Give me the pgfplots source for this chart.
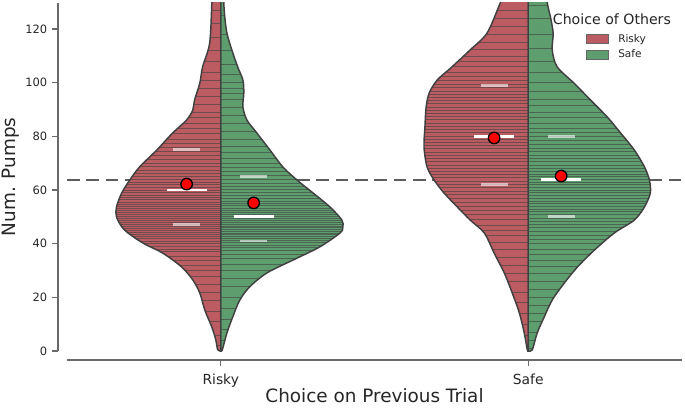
\documentclass[border=0pt]{standalone}
\usepackage{pgfplots}
\pgfplotsset{compat=1.18}
\usepackage{pgfplotstable}
\usepackage{fontspec}
\setmainfont{DejaVu Sans}

\definecolor{vred}{RGB}{186,92,97}
\definecolor{vgreen}{RGB}{94,158,110}
\definecolor{edge}{RGB}{64,64,64}
\definecolor{txt}{RGB}{38,38,38}
\definecolor{spine}{RGB}{105,105,105}

% violin outlines (x = category position +/- half width, y = pumps)
\pgfplotstableread{
x y
0 0
-0.010 0.5
-0.016 4.1
-0.029 8.9
-0.052 15.3
-0.068 21.6
-0.091 26.5
-0.127 31.3
-0.189 36.5
-0.254 40.3
-0.313 45.1
-0.339 49.9
-0.339 53.7
-0.322 58.9
-0.296 63.7
-0.264 68.6
-0.208 74.9
-0.156 81.3
-0.111 86.1
-0.091 89.8
-0.085 93.6
-0.068 99.9
-0.059 105.9
-0.036 114.8
-0.029 129.7
-0.025 140
0 140
}\riskyrisky

\pgfplotstableread{
x y
0 0
0.005 0.4
0.020 6.7
0.039 12.7
0.062 19.0
0.094 23.9
0.150 29.1
0.235 33.9
0.322 38.8
0.388 44.0
0.397 46.2
0.394 48.8
0.355 53.7
0.300 58.9
0.248 63.7
0.202 68.6
0.160 74.9
0.117 81.3
0.085 86.1
0.072 91.0
0.075 96.2
0.072 101.0
0.055 105.9
0.036 112.2
0.020 118.5
0.013 124.6
0.010 129.7
0.008 140
0 140
}\riskysafe

\pgfplotstableread{
x y
1 0
0.997 0.4
0.987 6.7
0.971 14.2
0.948 21.6
0.922 29.1
0.889 36.5
0.857 44.0
0.811 48.8
0.769 53.7
0.726 58.9
0.694 63.7
0.671 68.6
0.661 76.0
0.664 83.5
0.668 91.0
0.678 96.2
0.704 101.0
0.752 105.9
0.811 112.2
0.866 118.5
0.909 129.7
0.948 140
1 140
}\saferisky

\pgfplotstableread{
x y
1 0
1.013 0.4
1.029 6.7
1.052 12.7
1.078 19.0
1.117 25.3
1.160 31.3
1.215 37.6
1.280 44.0
1.345 48.8
1.378 53.7
1.397 58.9
1.394 63.7
1.378 68.6
1.345 74.9
1.300 81.3
1.257 87.2
1.202 93.6
1.150 99.7
1.094 105.9
1.078 112.2
1.081 118.5
1.072 124.6
1.062 129.7
1.050 140
1 140
}\safesafe

% stick positions (observations)
\pgfplotstableread{
y
2
6
11
15
19
22
25
28
30
32
34
35.5
37
38
39
40
41
42
42.8
43.5
44.2
45
45.8
46.5
47.2
48
48.8
49.5
50.2
51
51.7
52.4
53.2
54
54.8
55.6
56.4
57.3
58.2
59
60
61
62
63
64
65
66.2
67.5
68.8
70
71.5
73
74.5
76
77.5
79
81
83
85
87
89
92
95
98
101
104
108
112
117
122
127
}\sticksrr

\pgfplotstableread{
y
1
4
8
12
16
20
24
27
30
32.5
34.5
36
37.5
38.5
39.5
40.5
41.3
42
42.7
43.4
44
44.7
45.3
46
46.6
47.3
48
48.7
49.4
50.1
50.9
51.7
52.5
53.3
54.2
55
56
57
58
59
60.2
61.4
62.6
64
65.5
67
68.5
70
72
74
76.5
79
82
85
88
91
94
96
98
100
103
107
112
118
125
}\sticksrs

\pgfplotstableread{
y
2
6
10
14
18
22
26
29
32
35
38
40.5
43
45
47
49
51
52.5
54
55.5
57
58.3
59.6
61
62.2
63.4
64.6
65.8
67
68.2
69.4
70.6
71.8
73
74.2
75.4
76.6
77.8
79
80.2
81.4
82.6
83.8
85
86.2
87.4
88.6
89.8
91
92.2
93.4
94.6
95.8
97
98.2
99.5
101
102.5
104
106
108
110
112.5
115
118
121
124
127
}\stickssr

\pgfplotstableread{
y
1
4
7
11
14
17
20
23
26
29
31.5
34
36
38
40
41.5
43
44.5
46
47.2
48.4
49.6
50.8
52
53
54
55
56
57
58
59
60
61
62
63
64
65
66
67
68.2
69.4
70.6
71.8
73
74.3
75.6
77
78.5
80
81.5
83
85
87
89
91.5
94
97
100
104
108
113
118
124
129
}\sticksss

% medians and quartiles: start x, y, length
\pgfplotstableread{
x y u
-0.176 60 0.13
0.042 50 0.13
0.824 80 0.13
1.042 64 0.13
}\medians

\pgfplotstableread{
x y u
-0.155 47 0.088
-0.155 75 0.088
0.063 41 0.088
0.063 65 0.088
0.845 62 0.088
0.845 99 0.088
1.063 50 0.088
1.063 80 0.088
}\quartiles

\begin{document}
\begin{tikzpicture}
\begin{axis}[
  name=ax,
  scale only axis,
  width=461.25pt, height=261pt,
  xmin=-0.5, xmax=1.5, ymin=0, ymax=129.7,
  axis x line*=bottom, axis y line*=left,
  axis x line shift=6.75pt, axis y line shift=6.75pt,
  axis line style={spine, line width=1pt},
  xtick={0,1}, xticklabels={Risky,Safe},
  ytick={0,20,...,120},
  tick align=outside, major tick length=4.5pt,
  tick style={spine, line width=0.8pt},
  /pgf/number format/assume math mode=true,
  xticklabel style={font=\fontsize{10.4}{12}\selectfont, text=txt, yshift=-2.5pt},
  yticklabel style={font=\fontsize{8.6}{10}\selectfont, text=txt},
  xlabel={Choice on Previous Trial},
  ylabel={Num. Pumps},
  xlabel style={font=\fontsize{13.8}{16}\selectfont, text=txt,
    at={(axis description cs:0.5,-0.129)}, anchor=center},
  ylabel style={font=\fontsize{13.8}{16}\selectfont, text=txt,
    at={(axis description cs:-0.091,0.5)}, anchor=center},
  legend image code/.code={\draw[#1] (0pt,-3.4pt) rectangle (17pt,3.4pt);},
  legend style={draw=none, fill=none, at={(rel axis cs:0.843,0.919)},
    anchor=north west, font=\fontsize{7.9}{9}\selectfont, text=txt,
    row sep=0pt, inner sep=0pt,
    /tikz/every odd column/.append style={column sep=5pt}},
  legend cell align=left,
]

% fills
\addplot[forget plot, fill=vred, draw=none, smooth] table {\riskyrisky} -- cycle;
\addplot[forget plot, fill=vgreen, draw=none, smooth] table {\riskysafe} -- cycle;
\addplot[forget plot, fill=vred, draw=none, smooth] table {\saferisky} -- cycle;
\addplot[forget plot, fill=vgreen, draw=none, smooth] table {\safesafe} -- cycle;

% sticks
\addplot[forget plot, draw=edge, draw opacity=0.6, line width=0.35pt, quiver={u=-0.45, v=0}] table[x expr=0, y=y] {\sticksrr};
\addplot[forget plot, draw=edge, draw opacity=0.6, line width=0.35pt, quiver={u=0.45, v=0}] table[x expr=0, y=y] {\sticksrs};
\addplot[forget plot, draw=edge, draw opacity=0.6, line width=0.35pt, quiver={u=-0.45, v=0}] table[x expr=1, y=y] {\stickssr};
\addplot[forget plot, draw=edge, draw opacity=0.6, line width=0.35pt, quiver={u=0.45, v=0}] table[x expr=1, y=y] {\sticksss};

% masks outside each half
\addplot[forget plot, fill=white, draw=none, smooth] table {\riskyrisky} -- (axis cs:-0.6,140) -- (axis cs:-0.6,-10) -- cycle;
\addplot[forget plot, fill=white, draw=none, smooth] table {\riskysafe} -- (axis cs:0.5,140) -- (axis cs:0.5,-10) -- cycle;
\addplot[forget plot, fill=white, draw=none, smooth] table {\saferisky} -- (axis cs:0.5,140) -- (axis cs:0.5,-10) -- cycle;
\addplot[forget plot, fill=white, draw=none, smooth] table {\safesafe} -- (axis cs:1.6,140) -- (axis cs:1.6,-10) -- cycle;

% overall reference line, visible only outside the violins
\addplot[forget plot, draw=edge!85, line width=1.1pt, dash pattern=on 9.5pt off 5pt] coordinates {(-0.5,63.8) (-0.296,63.8)};
\addplot[forget plot, draw=edge!85, line width=1.1pt, dash pattern=on 9.5pt off 5pt] coordinates {(0.248,63.8) (0.694,63.8)};
\addplot[forget plot, draw=edge!85, line width=1.1pt, dash pattern=on 9.5pt off 5pt] coordinates {(1.394,63.8) (1.5,63.8)};

% outlines
\addplot[forget plot, draw=edge, line width=1.1pt, smooth] table {\riskyrisky} -- cycle;
\addplot[forget plot, draw=edge, line width=1.1pt, smooth] table {\riskysafe} -- cycle;
\addplot[forget plot, draw=edge, line width=1.1pt, smooth] table {\saferisky} -- cycle;
\addplot[forget plot, draw=edge, line width=1.1pt, smooth] table {\safesafe} -- cycle;

% quartiles and medians
\addplot[forget plot, draw=white, draw opacity=0.6, line width=2.2pt, quiver={u=\thisrow{u}, v=0}] table[x=x, y=y] {\quartiles};
\addplot[forget plot, draw=white, line width=2.2pt, quiver={u=\thisrow{u}, v=0}] table[x=x, y=y] {\medians};

% means
\addplot[forget plot, only marks, mark=*, mark size=4.3pt,
  mark options={fill=red, draw=black, line width=1pt}]
  coordinates {(-0.111,62.2) (0.107,55.2) (0.889,79.4) (1.107,65.2)};

\addlegendimage{fill=vred, draw=edge!80, line width=0.4pt}
\addlegendentry{Risky}
\addlegendimage{fill=vgreen, draw=edge!80, line width=0.4pt}
\addlegendentry{Safe}

\node[font=\fontsize{10.6}{12}\selectfont, text=txt] at (rel axis cs:0.886,0.954) {Choice of Others};
\end{axis}
\pgfresetboundingbox
\path ([xshift=-50.25pt,yshift=-42pt]ax.south west) rectangle ([xshift=2.25pt,yshift=2.25pt]ax.north east);
\end{tikzpicture}
\end{document}
